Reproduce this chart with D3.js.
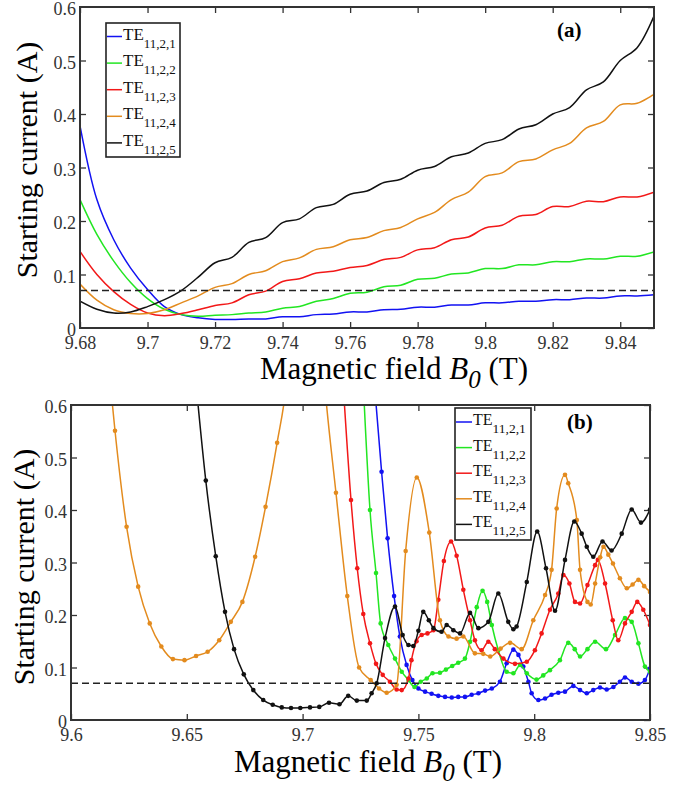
<!DOCTYPE html>
<html>
<head>
<meta charset="utf-8">
<script src="https://cdn.jsdelivr.net/npm/d3@7"></script>
<style>
body { margin: 0; background: #fff; }
svg text { font-family: "Liberation Serif", "Times New Roman", serif !important; }
</style>
</head>
<body>
<svg id="chart" width="682" height="786" font-family="Liberation Serif"></svg>
<script>
// mode labels and colours (same order in both panels)
var modeNames = ["11,2,1", "11,2,2", "11,2,3", "11,2,4", "11,2,5"];
var modeColors = ["#1212f2", "#22e622", "#f21818", "#e38b1e", "#111111"];
var threshold = 0.07;

// panel (a): common field grid (T) and starting currents (A)
var aField = [9.68, 9.685, 9.69, 9.695, 9.70, 9.705, 9.71, 9.715, 9.72, 9.725, 9.73, 9.735,
  9.74, 9.745, 9.75, 9.755, 9.76, 9.765, 9.77, 9.775, 9.78, 9.785, 9.79, 9.795, 9.80, 9.805,
  9.81, 9.815, 9.82, 9.825, 9.83, 9.835, 9.84, 9.845, 9.85];
var aMode1 = [0.378, 0.240, 0.165, 0.112, 0.072, 0.040, 0.025, 0.019, 0.016, 0.016, 0.017, 0.017,
  0.021, 0.021, 0.025, 0.026, 0.030, 0.030, 0.034, 0.035, 0.039, 0.039, 0.043, 0.043, 0.047, 0.047,
  0.050, 0.050, 0.053, 0.053, 0.056, 0.056, 0.060, 0.060, 0.062];
var aMode2 = [0.240, 0.175, 0.125, 0.085, 0.055, 0.035, 0.025, 0.022, 0.024, 0.025, 0.028, 0.030,
  0.037, 0.040, 0.050, 0.055, 0.065, 0.067, 0.077, 0.080, 0.091, 0.093, 0.101, 0.103, 0.111, 0.111,
  0.118, 0.118, 0.124, 0.124, 0.129, 0.129, 0.134, 0.134, 0.142];
var aMode3 = [0.143, 0.100, 0.068, 0.044, 0.028, 0.023, 0.027, 0.034, 0.042, 0.047, 0.062, 0.069,
  0.087, 0.092, 0.103, 0.106, 0.113, 0.117, 0.128, 0.132, 0.146, 0.150, 0.165, 0.170, 0.187, 0.192,
  0.209, 0.212, 0.227, 0.227, 0.237, 0.236, 0.245, 0.245, 0.254];
var aMode4 = [0.082, 0.052, 0.034, 0.027, 0.027, 0.034, 0.047, 0.060, 0.076, 0.083, 0.100, 0.107,
  0.124, 0.131, 0.147, 0.152, 0.165, 0.169, 0.182, 0.188, 0.204, 0.216, 0.240, 0.254, 0.283, 0.290,
  0.311, 0.316, 0.333, 0.345, 0.374, 0.386, 0.417, 0.420, 0.437];
var aMode5 = [0.050, 0.035, 0.028, 0.030, 0.040, 0.053, 0.070, 0.095, 0.122, 0.132, 0.160, 0.169,
  0.197, 0.204, 0.225, 0.231, 0.250, 0.256, 0.272, 0.278, 0.295, 0.302, 0.320, 0.327, 0.345, 0.352,
  0.372, 0.380, 0.400, 0.412, 0.445, 0.460, 0.500, 0.524, 0.583];

// panel (b): [field, current] samples for each mode
var bMode1 = [[9.7310, 0.64], [9.7341, 0.473], [9.7367, 0.346], [9.7395, 0.236], [9.7420, 0.159],
  [9.7449, 0.105], [9.7474, 0.076], [9.7500, 0.060], [9.7529, 0.054], [9.7557, 0.050], [9.7586, 0.046],
  [9.7615, 0.044], [9.7644, 0.043], [9.7672, 0.044], [9.7701, 0.044], [9.7730, 0.048], [9.7759, 0.051],
  [9.7788, 0.056], [9.7817, 0.060], [9.7852, 0.073], [9.7881, 0.108], [9.7910, 0.134], [9.7932, 0.124],
  [9.7953, 0.102], [9.7975, 0.073], [9.7989, 0.051], [9.8018, 0.038], [9.8047, 0.041], [9.8075, 0.048],
  [9.8104, 0.052], [9.8133, 0.054], [9.8169, 0.065], [9.8198, 0.057], [9.8227, 0.051], [9.8255, 0.057],
  [9.8284, 0.062], [9.8313, 0.058], [9.8342, 0.063], [9.8370, 0.073], [9.8392, 0.081], [9.8421, 0.073],
  [9.8450, 0.069], [9.8478, 0.076], [9.8500, 0.098]];
var bMode2 = [[9.7262, 0.64], [9.7291, 0.400], [9.7317, 0.280], [9.7337, 0.184], [9.7370, 0.143],
  [9.7399, 0.117], [9.7428, 0.092], [9.7457, 0.076], [9.7483, 0.063], [9.7510, 0.073], [9.7536, 0.079],
  [9.7561, 0.089], [9.7593, 0.090], [9.7619, 0.096], [9.7646, 0.103], [9.7672, 0.109], [9.7701, 0.117],
  [9.7723, 0.149], [9.7752, 0.215], [9.7777, 0.246], [9.7797, 0.225], [9.7817, 0.181], [9.7845, 0.133],
  [9.7881, 0.092], [9.7910, 0.089], [9.7939, 0.105], [9.7968, 0.089], [9.8010, 0.077], [9.8039, 0.085],
  [9.8068, 0.095], [9.8111, 0.114], [9.8147, 0.147], [9.8175, 0.135], [9.8198, 0.121], [9.8230, 0.135],
  [9.8263, 0.149], [9.8310, 0.135], [9.8349, 0.162], [9.8392, 0.194], [9.8421, 0.187], [9.8450, 0.146],
  [9.8478, 0.102], [9.8500, 0.092]];
var bMode3 = [[9.7175, 0.64], [9.7209, 0.419], [9.7236, 0.289], [9.7262, 0.202], [9.7291, 0.146],
  [9.7317, 0.107], [9.7346, 0.086], [9.7377, 0.073], [9.7406, 0.058], [9.7428, 0.057], [9.7457, 0.079],
  [9.7470, 0.114], [9.7492, 0.150], [9.7514, 0.162], [9.7539, 0.165], [9.7565, 0.171], [9.7586, 0.229],
  [9.7610, 0.303], [9.7641, 0.340], [9.7665, 0.313], [9.7694, 0.248], [9.7723, 0.190], [9.7744, 0.152],
  [9.7773, 0.133], [9.7802, 0.149], [9.7830, 0.135], [9.7867, 0.117], [9.7917, 0.107], [9.7968, 0.111],
  [9.8003, 0.133], [9.8032, 0.165], [9.8068, 0.210], [9.8104, 0.241], [9.8126, 0.276], [9.8152, 0.260],
  [9.8176, 0.225], [9.8198, 0.222], [9.8230, 0.257], [9.8263, 0.295], [9.8275, 0.305], [9.8306, 0.260],
  [9.8339, 0.190], [9.8363, 0.152], [9.8392, 0.184], [9.8421, 0.206], [9.8445, 0.225], [9.8471, 0.210],
  [9.8500, 0.181]];
var bMode4 = [[9.6170, 0.64], [9.6190, 0.551], [9.6240, 0.368], [9.6290, 0.254], [9.6340, 0.184],
  [9.6390, 0.140], [9.6440, 0.116], [9.6490, 0.114], [9.6540, 0.122], [9.6590, 0.130], [9.6640, 0.152],
  [9.6690, 0.187], [9.6740, 0.225], [9.6795, 0.311], [9.6840, 0.406], [9.6890, 0.528], [9.6930, 0.64],
  [9.7010, 1.20], [9.7095, 0.64], [9.7144, 0.433], [9.7193, 0.236], [9.7244, 0.100], [9.7294, 0.076],
  [9.7330, 0.060], [9.7363, 0.052], [9.7406, 0.067], [9.7445, 0.322], [9.7493, 0.462], [9.7547, 0.357],
  [9.7593, 0.190], [9.7630, 0.159], [9.7665, 0.155], [9.7694, 0.159], [9.7744, 0.127], [9.7780, 0.126],
  [9.7810, 0.121], [9.7855, 0.136], [9.7896, 0.147], [9.7946, 0.135], [9.7996, 0.190], [9.8047, 0.238],
  [9.8075, 0.286], [9.8097, 0.403], [9.8133, 0.467], [9.8147, 0.451], [9.8184, 0.381], [9.8198, 0.286],
  [9.8230, 0.225], [9.8244, 0.220], [9.8263, 0.260], [9.8285, 0.310], [9.8299, 0.330], [9.8320, 0.315],
  [9.8340, 0.298], [9.8370, 0.270], [9.8400, 0.251], [9.8425, 0.258], [9.8450, 0.267], [9.8475, 0.255],
  [9.8500, 0.244]];
var bMode5 = [[9.6540, 0.64], [9.6582, 0.456], [9.6625, 0.312], [9.6665, 0.206], [9.6704, 0.135],
  [9.6746, 0.087], [9.6787, 0.057], [9.6830, 0.038], [9.6871, 0.029], [9.6910, 0.024], [9.6950, 0.023],
  [9.6990, 0.023], [9.7032, 0.024], [9.7072, 0.025], [9.7114, 0.033], [9.7159, 0.030], [9.7197, 0.046],
  [9.7234, 0.037], [9.7277, 0.037], [9.7298, 0.051], [9.7320, 0.070], [9.7356, 0.156], [9.7399, 0.216],
  [9.7432, 0.162], [9.7457, 0.143], [9.7478, 0.141], [9.7500, 0.170], [9.7521, 0.206], [9.7545, 0.190],
  [9.7565, 0.175], [9.7600, 0.168], [9.7622, 0.181], [9.7651, 0.171], [9.7680, 0.165], [9.7723, 0.204],
  [9.7759, 0.175], [9.7802, 0.187], [9.7845, 0.241], [9.7888, 0.187], [9.7910, 0.173], [9.7924, 0.178],
  [9.7968, 0.263], [9.8013, 0.359], [9.8051, 0.289], [9.8090, 0.208], [9.8133, 0.305], [9.8173, 0.378],
  [9.8205, 0.355], [9.8227, 0.330], [9.8255, 0.311], [9.8295, 0.340], [9.8334, 0.323], [9.8378, 0.355],
  [9.8421, 0.401], [9.8461, 0.376], [9.8500, 0.401]];

var yTicks = [0, 0.1, 0.2, 0.3, 0.4, 0.5, 0.6];
var aTicksX = [9.68, 9.70, 9.72, 9.74, 9.76, 9.78, 9.80, 9.82, 9.84];
var bTicksX = [9.60, 9.65, 9.70, 9.75, 9.80, 9.85];

var svg = d3.select("#chart");

function drawPanel(opt) {
  var x = d3.scaleLinear().domain(opt.xDomain).range([opt.left, opt.right]);
  var y = d3.scaleLinear().domain([0, 0.6]).range([opt.bottom, opt.top]);
  var g = svg.append("g");

  g.append("clipPath").attr("id", opt.id + "-clip")
    .append("rect")
    .attr("x", opt.left).attr("y", opt.top)
    .attr("width", opt.right - opt.left).attr("height", opt.bottom - opt.top);

  // axes, ticks pointing inward on all four sides
  var fmt = function (d) { return String(+d.toFixed(2)); };
  var bottom = g.append("g").attr("transform", `translate(0,${opt.bottom})`)
    .call(d3.axisBottom(x).tickValues(opt.xTicks).tickFormat(fmt)
      .tickSizeInner(-6).tickSizeOuter(0).tickPadding(8));
  var top = g.append("g").attr("transform", `translate(0,${opt.top})`)
    .call(d3.axisTop(x).tickValues(opt.xTicks).tickFormat("")
      .tickSizeInner(-6).tickSizeOuter(0));
  var left = g.append("g").attr("transform", `translate(${opt.left},0)`)
    .call(d3.axisLeft(y).tickValues(yTicks).tickFormat(fmt)
      .tickSizeInner(-6).tickSizeOuter(0).tickPadding(4));
  var right = g.append("g").attr("transform", `translate(${opt.right},0)`)
    .call(d3.axisRight(y).tickValues(yTicks).tickFormat("")
      .tickSizeInner(-6).tickSizeOuter(0));
  [bottom, top, left, right].forEach(function (a) {
    a.attr("font-family", null).attr("font-size", null);
    a.select(".domain").remove();
    a.selectAll(".tick line").attr("stroke", "#333").attr("stroke-width", 1.3);
    a.selectAll("text").attr("fill", "#333").style("font-size", "18px");
  });
  left.selectAll(".tick text").attr("dy", "0.42em");
  left.selectAll(".tick").filter(function (d) { return d == 0 || d == 0.6; }).select("line").remove();

  var plot = g.append("g").attr("clip-path", `url(#${opt.id}-clip)`);
  var line = d3.line()
    .x(function (d) { return x(d[0]); })
    .y(function (d) { return y(d[1]); })
    .curve(opt.curve);

  opt.series.forEach(function (s, i) {
    plot.append("path")
      .datum(s)
      .attr("d", line)
      .attr("fill", "none")
      .attr("stroke", modeColors[i])
      .attr("stroke-width", opt.lineWidth);
    if (opt.markers) {
      plot.selectAll(null)
        .data(s)
        .enter()
        .append("circle")
        .attr("cx", function (d) { return x(d[0]); })
        .attr("cy", function (d) { return y(d[1]); })
        .attr("r", 2.3)
        .attr("fill", modeColors[i]);
    }
  });

  // threshold
  plot.append("line")
    .attr("x1", opt.left).attr("x2", opt.right)
    .attr("y1", y(threshold)).attr("y2", y(threshold))
    .attr("stroke", "#222").attr("stroke-width", 1.5)
    .attr("stroke-dasharray", "7,4");

  // frame
  g.append("rect")
    .attr("x", opt.left).attr("y", opt.top)
    .attr("width", opt.right - opt.left).attr("height", opt.bottom - opt.top)
    .attr("fill", "none").attr("stroke", "#333").attr("stroke-width", 2);

  // legend
  var lg = opt.legend;
  g.append("rect")
    .attr("x", lg.x0).attr("y", lg.y0)
    .attr("width", lg.x1 - lg.x0).attr("height", lg.y1 - lg.y0)
    .attr("fill", "#fff").attr("stroke", "#222").attr("stroke-width", 1.6);
  modeNames.forEach(function (name, i) {
    var by = lg.base + i * lg.step;
    g.append("line")
      .attr("x1", lg.lx0).attr("x2", lg.lx1)
      .attr("y1", by - 3).attr("y2", by - 3)
      .attr("stroke", modeColors[i]).attr("stroke-width", 1.5);
    var t = g.append("text")
      .attr("x", lg.tx).attr("y", by)
      .attr("fill", "#111")
      .style("font-size", lg.size + "px")
      .text("TE");
    t.append("tspan")
      .attr("dy", lg.subDy)
      .style("font-size", lg.subSize + "px")
      .text(name);
  });

  g.append("text")
    .attr("x", opt.tag.x).attr("y", opt.tag.y)
    .attr("font-weight", "bold")
    .style("font-size", "21px")
    .text(opt.tag.text);

  // axis titles
  g.append("text")
    .attr("transform", `translate(${opt.ylab.x},${opt.ylab.y}) rotate(-90)`)
    .attr("text-anchor", "middle")
    .style("font-size", "30px")
    .text("Starting current (A)");

  var xt = g.append("text")
    .attr("x", opt.xlab.x).attr("y", opt.xlab.y)
    .attr("text-anchor", "middle")
    .style("font-size", "31px");
  xt.append("tspan").text("Magnetic field ");
  xt.append("tspan").attr("font-style", "italic").text("B");
  xt.append("tspan").attr("font-style", "italic").attr("dy", 9)
    .style("font-size", "25px").text("0");
  xt.append("tspan").attr("dy", -9).text(" (T)");
}

drawPanel({
  id: "pa",
  left: 80, right: 654, top: 7, bottom: 328,
  xDomain: [9.68, 9.85],
  xTicks: aTicksX,
  series: [aMode1, aMode2, aMode3, aMode4, aMode5].map(function (m) {
    return aField.map(function (b, i) { return [b, m[i]]; });
  }),
  curve: d3.curveCatmullRom.alpha(0.5),
  markers: false,
  lineWidth: 1.5,
  legend: { x0: 106, y0: 23, x1: 180, y1: 157, lx0: 107, lx1: 122, tx: 123,
    base: 39.5, step: 26.6, size: 17, subSize: 13, subDy: 8 },
  tag: { text: "(a)", x: 557, y: 37 },
  ylab: { x: 37, y: 160 },
  xlab: { x: 394, y: 379 }
});

drawPanel({
  id: "pb",
  left: 71, right: 650, top: 405, bottom: 720,
  xDomain: [9.6, 9.85],
  xTicks: bTicksX,
  series: [bMode1, bMode2, bMode3, bMode4, bMode5],
  curve: d3.curveMonotoneX,
  markers: true,
  lineWidth: 1.5,
  legend: { x0: 455, y0: 408, x1: 531, y1: 540, lx0: 456, lx1: 472, tx: 473,
    base: 425, step: 25.6, size: 16, subSize: 13.5, subDy: 8 },
  tag: { text: "(b)", x: 567, y: 429 },
  ylab: { x: 34, y: 567 },
  xlab: { x: 368, y: 772 }
});
</script>
</body>
</html>
